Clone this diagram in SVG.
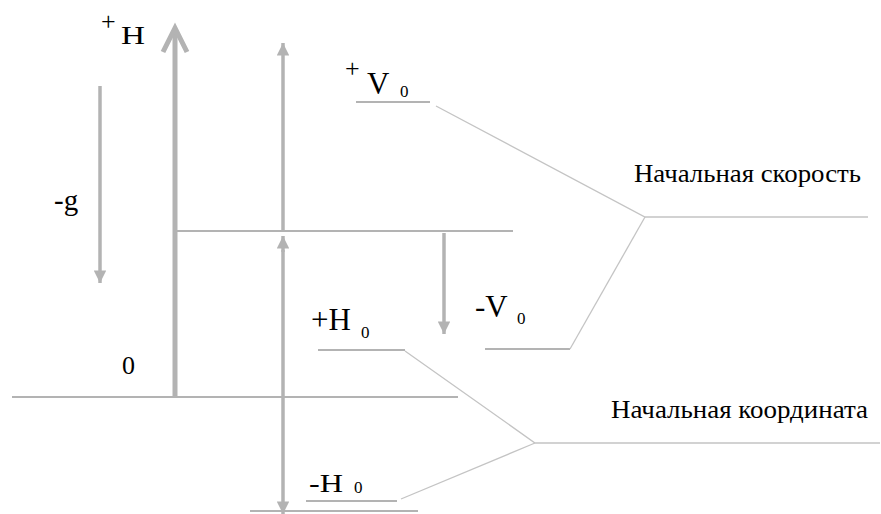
<svg xmlns="http://www.w3.org/2000/svg" width="881" height="514" viewBox="0 0 881 514">
<defs>
<style>
.ax{stroke:#b3b3b3;fill:none}
.ld{stroke:#c4c4c4;stroke-width:1.3;fill:none}
</style>
<marker id="ah" viewBox="0 0 10 10" refX="10" refY="5" markerWidth="4" markerHeight="3.6" orient="auto" markerUnits="strokeWidth">
<path d="M0,0 L10,5 L0,10 Z" fill="#b3b3b3"/>
</marker>
</defs>
<rect width="881" height="514" fill="#fff"/>
<g id="connectors">
<line class="ax" x1="175" y1="398" x2="175" y2="30" stroke-width="5"/>
<polyline class="ax" points="163,52 175,28 187,52" stroke-width="5"/>
<line class="ax" x1="12" y1="397" x2="458" y2="397" stroke-width="2"/>
<line class="ax" x1="175" y1="231" x2="513" y2="231" stroke-width="2"/>
<line class="ax" x1="250" y1="511" x2="418" y2="511" stroke-width="2"/>
<line class="ax" x1="283" y1="231" x2="283" y2="43" stroke-width="3.5" marker-end="url(#ah)"/>
<line class="ax" x1="283" y1="252" x2="283" y2="236" stroke-width="3.5" marker-end="url(#ah)"/>
<line class="ax" x1="283" y1="250" x2="283" y2="514" stroke-width="3.5" marker-end="url(#ah)"/>
<line class="ax" x1="100" y1="86" x2="100" y2="283" stroke-width="3.5" marker-end="url(#ah)"/>
<line class="ax" x1="444" y1="233" x2="444" y2="334" stroke-width="3.5" marker-end="url(#ah)"/>
<line class="ax" x1="356" y1="102" x2="430" y2="102" stroke-width="2"/>
<line class="ax" x1="318" y1="350" x2="405" y2="350" stroke-width="2"/>
<line class="ax" x1="306" y1="501" x2="397" y2="501" stroke-width="2"/>
<line class="ax" x1="485" y1="349" x2="570" y2="349" stroke-width="2"/>
<polyline class="ld" points="436,106 645,217 868,217"/>
<polyline class="ld" points="645,217 570,349"/>
<polyline class="ld" points="405,351 535,443 880,443"/>
<polyline class="ld" points="535,443 401,499"/>
</g>
<g font-family="Liberation Serif, serif" fill="#000">
<g id="label-H">
<text x="101" y="30" font-size="26">+</text>
<text x="121" y="44" font-size="26" textLength="24" lengthAdjust="spacingAndGlyphs">H</text>
</g>
<g id="label-V0">
<text x="345" y="77" font-size="26">+</text>
<text x="367" y="94" font-size="31">V</text>
<text x="400" y="97" font-size="17">0</text>
</g>
<g id="label-g">
<text x="54" y="210" font-size="29">-g</text>
</g>
<g id="label-zero">
<text x="122" y="374" font-size="26">0</text>
</g>
<g id="label-mV0">
<text x="475" y="317" font-size="31">-V</text>
<text x="517" y="324" font-size="17">0</text>
</g>
<g id="label-pH0">
<text x="311" y="330" font-size="31">+H</text>
<text x="361" y="338" font-size="17">0</text>
</g>
<g id="label-mH0">
<text x="309" y="492" font-size="25" textLength="34" lengthAdjust="spacingAndGlyphs">-H</text>
<text x="354" y="493" font-size="17">0</text>
</g>
<g id="label-speed">
<text x="634" y="182" font-size="25" textLength="227" lengthAdjust="spacingAndGlyphs">Начальная скорость</text>
</g>
<g id="label-coord">
<text x="611" y="418" font-size="25" textLength="257" lengthAdjust="spacingAndGlyphs">Начальная координата</text>
</g>
</g>
</svg>
